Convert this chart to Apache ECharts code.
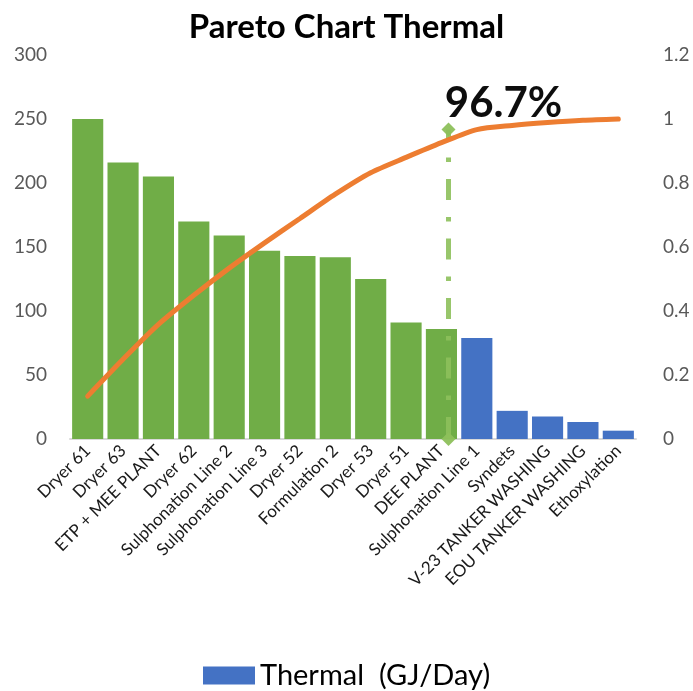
<!DOCTYPE html>
<html>
<head>
<meta charset="utf-8">
<script src="https://cdn.jsdelivr.net/npm/echarts@6/dist/echarts.min.js"></script>
<style>
  html, body { margin: 0; padding: 0; background: #fff; }
  #chart { width: 693px; height: 691px; }
</style>
</head>
<body>
<div id="chart"></div>
<script>
// Thermal load per unit, sorted high to low (GJ/Day)
const categories = [
  'Dryer 61', 'Dryer 63', 'ETP + MEE PLANT', 'Dryer 62', 'Sulphonation Line 2',
  'Sulphonation Line 3', 'Dryer 52', 'Formulation 2', 'Dryer 53', 'Dryer 51',
  'DEE PLANT', 'Sulphonation Line 1', 'Syndets', 'V-23 TANKER WASHING',
  'EOU TANKER WASHING', 'Ethoxylation'
];
const thermal = [250, 216, 205, 170, 159, 147, 143, 142, 125, 91, 86, 79, 22, 17.5, 13.3, 6.5];
// Cumulative share of the total thermal load
const cumulativeShare = [0.134, 0.249, 0.358, 0.449, 0.534, 0.613, 0.689, 0.765,
  0.832, 0.880, 0.926, 0.967, 0.980, 0.989, 0.996, 1.0];
// Number of leading units in the "vital few" group
const vitalFew = 11;
// Cut-off marker: position on the unit scale and cumulative share it flags
const cutoffPosition = 10.7;
const cutoffShare = 0.967;
const leftTicks = { min: 0, max: 300, interval: 50 };
const rightTicks = { min: 0, max: 1.2, interval: 0.2 };

const FONT = 'Lato, "Noto Sans", sans-serif';
const GREEN = '#70AD47';
const BLUE = '#4472C4';
const ORANGE = '#ED7D31';
const MARK_GREEN = '#8DC05B';

const chart = echarts.init(document.getElementById('chart'), null, { renderer: 'canvas' });

const barData = thermal.map((v, i) => ({
  value: v,
  itemStyle: { color: i < vitalFew ? GREEN : BLUE }
}));

chart.setOption({
  animation: false,
  backgroundColor: '#fff',
  textStyle: { fontFamily: FONT },
  title: {
    text: 'Pareto Chart Thermal',
    left: 'center',
    top: 6,
    textStyle: { fontFamily: FONT, fontWeight: 'bold', fontSize: 33, color: '#000' }
  },
  legend: {
    data: ['Thermal  (GJ/Day)'],
    left: 198,
    top: 656,
    itemWidth: 52,
    itemHeight: 18,
    itemGap: 10,
    icon: 'rect',
    textStyle: { fontFamily: FONT, fontSize: 29, color: '#000', padding: [0, 0, 0, 0] }
  },
  grid: { left: 70, right: 57, top: 55, bottom: 252, containLabel: false },
  xAxis: [
    {
      type: 'category',
      data: categories,
      axisLine: { show: true, lineStyle: { color: '#D9D9D9', width: 2 } },
      axisTick: { show: false },
      axisLabel: {
        rotate: 45,
        interval: 0,
        margin: 9,
        fontFamily: FONT,
        fontSize: 17,
        color: '#1a1a1a'
      }
    },
    { type: 'value', min: 0, max: categories.length, show: false }
  ],
  yAxis: [
    {
      type: 'value',
      min: leftTicks.min, max: leftTicks.max, interval: leftTicks.interval,
      splitLine: { show: false },
      axisLine: { show: false },
      axisTick: { show: false },
      axisLabel: { fontFamily: FONT, fontSize: 19, color: '#595959', margin: 23 }
    },
    {
      type: 'value',
      min: rightTicks.min, max: rightTicks.max, interval: rightTicks.interval,
      splitLine: { show: false },
      axisLine: { show: false },
      axisTick: { show: false },
      axisLabel: {
        fontFamily: FONT, fontSize: 19, color: '#595959', margin: 27,
        formatter: v => String(+v.toFixed(1))
      }
    }
  ],
  series: [
    {
      name: 'Thermal  (GJ/Day)',
      type: 'bar',
      data: barData,
      itemStyle: { color: BLUE },
      barCategoryGap: '12%',
      z: 1
    },
    {
      name: 'Cut-off',
      type: 'line',
      xAxisIndex: 1,
      yAxisIndex: 1,
      data: [
        {
          value: [cutoffPosition, cutoffShare],
          label: {
            show: true,
            position: 'top',
            offset: [55, 7],
            formatter: p => (p.value[1] * 100).toFixed(1) + '%',
            fontFamily: FONT,
            fontWeight: 'bold',
            fontSize: 42,
            color: '#000'
          }
        },
        { value: [cutoffPosition, 0] }
      ],
      symbol: 'diamond',
      symbolSize: 14,
      showAllSymbol: true,
      itemStyle: { color: MARK_GREEN, opacity: 0.95 },
      lineStyle: {
        color: MARK_GREEN,
        width: 5,
        opacity: 0.9,
        type: [21, 17, 4.5, 17],
        dashOffset: 10
      },
      z: 3
    },
    {
      name: 'Cumulative',
      type: 'line',
      yAxisIndex: 1,
      data: cumulativeShare,
      smooth: 0.25,
      symbol: 'none',
      lineStyle: { color: ORANGE, width: 5, cap: 'round' },
      z: 4
    }
  ]
});
</script>
</body>
</html>
